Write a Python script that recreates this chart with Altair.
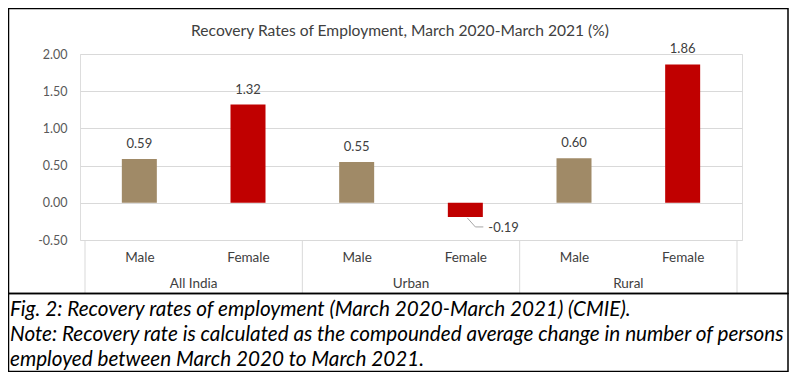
import altair as alt
import pandas as pd

groups = ["All India", "Urban", "Rural"]
genders = ["Male", "Female"]
values = [0.59, 1.32, 0.55, -0.19, 0.60, 1.86]
title_text = "Recovery Rates of Employment, March 2020-March 2021 (%)"
caption_lines = [
    "Fig. 2: Recovery rates of employment (March 2020-March 2021) (CMIE).",
    "Note: Recovery rate is calculated as the compounded average change in number of persons",
    "employed between March 2020 to March 2021.",
]
y_ticks = [-0.5, 0.0, 0.5, 1.0, 1.5, 2.0]

rows = []
for gi, g in enumerate(groups):
    for si, s in enumerate(genders):
        idx = gi * len(genders) + si
        rows.append({"group": g, "gender": s, "idx": idx, "value": values[idx]})
df = pd.DataFrame(rows)

grp_df = pd.DataFrame({
    "group": groups,
    "center": [gi * len(genders) + (len(genders) - 1) / 2 for gi in range(len(groups))],
})
sep_df = pd.DataFrame({"pos": [gi * len(genders) - 0.5 for gi in range(len(groups) + 1)]})

W, H = 662, 186
FONT = "Lato"
xscale = alt.Scale(domain=[-0.5, len(values) - 0.5], nice=False, zero=False)
yscale = alt.Scale(domain=[-0.5, 2.0], nice=False)

label_expr = "[" + ",".join("'" + g + "'" for g in genders * len(groups)) + "][datum.value]"
fmt_expr = "replace(format(datum.value, '.2f'), '\u2212', '-')"

x_axis = alt.Axis(values=list(range(len(values))), labelExpr=label_expr,
                  title=None, grid=False, ticks=False, domain=False,
                  labelPadding=10, labelFontSize=13.5, labelColor="#404040",
                  labelFont=FONT, labelOverlap=False)
y_axis = alt.Axis(values=y_ticks, labelExpr=fmt_expr, title=None, ticks=False,
                  domain=False, gridColor="#D9D9D9", gridWidth=1,
                  labelOverlap=False, labelFlush=False, labelBound=False,
                  labelPadding=13, labelFontSize=12.5, labelColor="#595959",
                  labelFont=FONT)

base = alt.Chart(df).transform_calculate(
    lbl="replace(format(datum.value, '.2f'), '\u2212', '-')"
)

xe = alt.X("idx:Q", scale=xscale, axis=x_axis)
ye = alt.Y("value:Q", scale=yscale, axis=y_axis)

bars = base.mark_bar(size=35).encode(
    x=xe, y=ye,
    color=alt.Color("gender:N", scale=alt.Scale(domain=genders, range=["#A08A67", "#C00000"]),
                    legend=None),
)

pos_labels = base.transform_filter("datum.value >= 0").mark_text(
    baseline="bottom", dy=-8, fontSize=13, color="#404040", font=FONT
).encode(x=xe, y=ye, text="lbl:N")

neg_labels = base.transform_filter("datum.value < 0").mark_text(
    align="left", baseline="middle", dx=23, dy=11, fontSize=13, color="#404040", font=FONT
).encode(x=xe, y=ye, text="lbl:N")

leader1 = base.transform_filter("datum.value < 0").mark_rule(
    color="#A6A6A6", strokeWidth=1, xOffset=2, yOffset=1, x2Offset=10, y2Offset=10
).encode(x=xe, y=ye, x2="idx:Q", y2="value:Q")

leader2 = base.transform_filter("datum.value < 0").mark_rule(
    color="#A6A6A6", strokeWidth=1, xOffset=10, yOffset=10, x2Offset=18, y2Offset=10
).encode(x=xe, y=ye, x2="idx:Q", y2="value:Q")

seps = alt.Chart(sep_df).mark_rule(color="#D9D9D9", strokeWidth=1).encode(
    x=alt.X("pos:Q", scale=xscale, axis=x_axis), y=alt.value(H), y2=alt.value(H + 53)
)

grp_labels = alt.Chart(grp_df).mark_text(
    baseline="middle", fontSize=13.5, color="#404040", font=FONT
).encode(x=alt.X("center:Q", scale=xscale, axis=x_axis), y=alt.value(H + 44), text="group:N")

title = alt.Chart(pd.DataFrame({"t": [title_text]})).mark_text(
    baseline="middle", align="center", fontSize=15.6, color="#404040", font=FONT
).encode(x=alt.value(320), y=alt.value(-23), text="t:N")

frame_top = alt.Chart(pd.DataFrame({"a": [0]})).mark_rect(
    fill=None, stroke="#000000", strokeWidth=1.5
).encode(x=alt.value(-71.5), x2=alt.value(708), y=alt.value(-45.5), y2=alt.value(239.5))

frame_bot = alt.Chart(pd.DataFrame({"a": [0]})).mark_rect(
    fill=None, stroke="#000000", strokeWidth=1.5
).encode(x=alt.value(-71.5), x2=alt.value(708), y=alt.value(239.5), y2=alt.value(317.5))

caption = alt.Chart(pd.DataFrame({"t": ["\n".join(caption_lines)]})).mark_text(
    align="left", baseline="top", lineBreak="\n", lineHeight=25,
    fontSize=20.7, fontStyle="italic", color="#000000", font=FONT
).encode(x=alt.value(-70), y=alt.value(246), text="t:N")

chart = alt.layer(
    bars, pos_labels, leader1, leader2, neg_labels, seps, grp_labels, title,
    frame_top, frame_bot, caption
).properties(
    width=W, height=H,
    autosize=alt.AutoSizeParams(type="none"),
    padding={"left": 72, "top": 46, "right": 47, "bottom": 132},
).configure_view(stroke=None).configure_axis(labelOverlap=False).configure(background="white")

chart.save("out.html", embed_options={"renderer": "svg", "actions": False})
